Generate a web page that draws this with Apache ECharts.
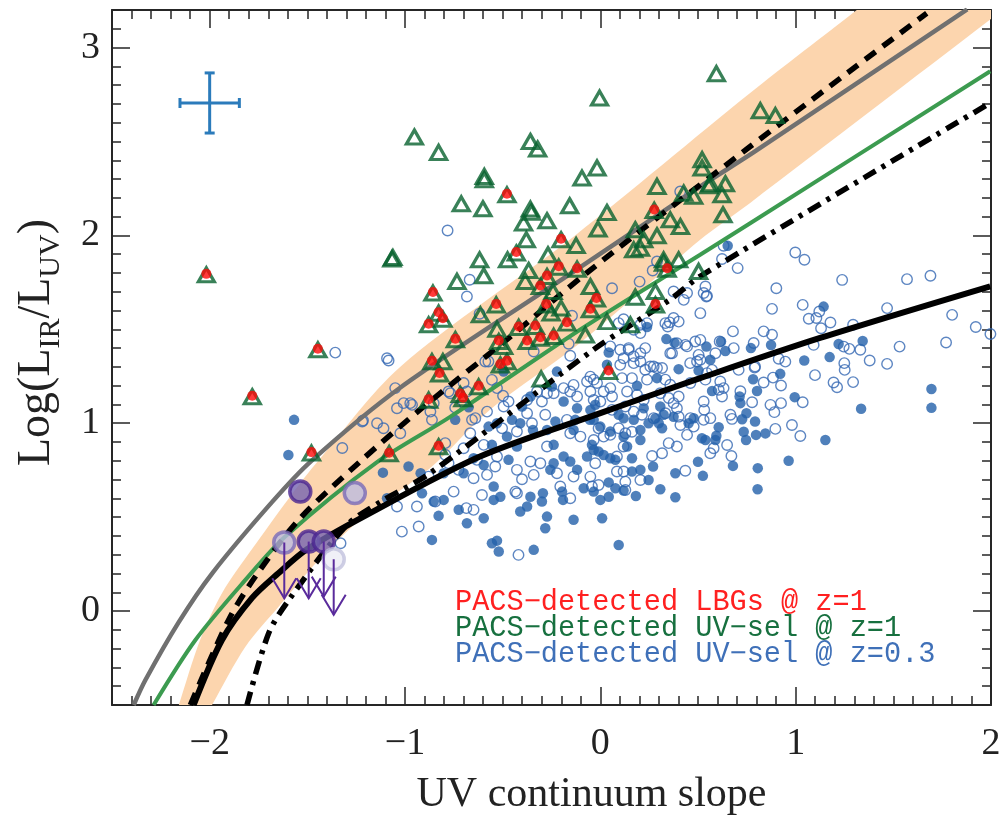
<!DOCTYPE html>
<html>
<head>
<meta charset="utf-8">
<script src="https://cdn.jsdelivr.net/npm/echarts@6/dist/echarts.min.js"></script>
<style>
  html, body { margin: 0; padding: 0; background: #fff; }
  #chart { width: 999px; height: 819px; }
</style>
</head>
<body>
<div id="chart"></div>
<script>
// ---- axis ranges / ticks ----
const xMin = -2.5, xMax = 2.0;
const yMin = -0.5, yMax = 3.2;
const xMajor = [-2, -1, 0, 1, 2];
const yMajor = [0, 1, 2, 3];

// ---- model curves ----
const grayCurve = [[-2.389,-0.5],[-2.329,-0.367],[-2.159,-0.06],[-1.988,0.2],[-1.681,0.58],[-1.479,0.80],
  [-1.025,1.189],[-0.129,1.812],[0.511,2.26],[0.782,2.441],[1.878,3.203]];
const greenCurve = [[-2.287,-0.5],[-2.073,-0.154],[-1.817,0.166],[-1.613,0.397],[-1.15,0.788],[-0.769,1.034],
  [-0.104,1.498],[0.511,1.897],[0.767,2.065],[1.996,2.874]];
const blackCurve = [[-2.082,-0.5],[-1.937,-0.154],[-1.783,0.07],[-1.65,0.2],[-1.5,0.33],[-1.2,0.51],
  [-0.616,0.823],[0,1.054],[0.511,1.24],[1.125,1.454],[1.996,1.729]];
const dashedCurve = [[-2.099,-0.5],[-1.903,-0.047],[-1.766,0.184],[-1.544,0.486],[-1.23,0.796],[-0.923,1.072],
  [-0.479,1.445],[-0.07,1.8],[0.767,2.473],[1.671,3.183]];
const dashDotCurve = [[-1.809,-0.5],[-1.698,-0.118],[-1.595,0.059],[-1.305,0.45],[-1.128,0.58],[-0.872,0.734],
  [-0.036,1.391],[0.357,1.658],[0.511,1.782],[1.996,2.705]];

// shaded band edges
const bandUpper = [[-2.158,-0.5],[-2.049,-0.154],[-1.937,0.095],[-1.783,0.33],[-1.595,0.6],[-1.46,0.78],
  [-1.025,1.3],[-0.129,2.0],[0.767,2.758],[1.313,3.2]];
const bandLower = [[-1.988,-0.5],[-1.817,-0.19],[-1.646,0.024],[-1.442,0.272],[-1.23,0.486],[-0.872,0.76],
  [-0.565,1.072],[-0.104,1.427],[0.511,1.977],[0.767,2.173],[1.996,3.149],[2.0,3.152]];

// ---- PACS-detected UV-selected @ z=1 (triangles) ----
const uvZ1 = [[-0.952,2.524],[-0.828,2.442],[-0.004,2.731],[0.594,2.861],[-0.358,2.5],[-0.321,2.46],[-0.594,2.314],
  [-0.594,2.296],[-0.017,2.359],[-0.094,2.305],[-0.712,2.168],[-0.601,2.142],[-0.478,2.216],[-0.358,2.14],
  [-0.353,2.123],[-0.157,2.158],[-0.273,2.078],[-0.393,2.066],[-0.379,1.977],[0.034,2.122],[-0.012,2.034],
  [0.29,2.261],[0.276,2.133],[0.521,2.403],[0.521,2.359],[0.427,2.225],[0.478,2.208],[0.555,2.264],[0.64,2.275],
  [0.623,2.216],[0.628,2.11],[0.41,2.047],[0.358,2.083],[0.29,1.998],[0.222,1.977],[0.179,2.03],[0.205,1.932],
  [0.171,1.923],[0.324,1.87],[0.401,1.87],[0.324,1.852],[0.342,1.82],[0.503,1.808],[0.282,1.701],[0.282,1.63],
  [0.179,1.671],[0.154,1.524],[0.034,1.541],[-0.051,1.728],[-0.02,1.661],[-0.051,1.604],[-0.077,1.47],
  [-0.124,1.946],[-0.119,1.82],[-0.201,1.977],[-0.213,1.831],[-0.273,1.781],[-0.242,1.701],[-0.201,1.613],
  [-0.277,1.63],[-0.252,1.587],[-0.307,1.728],[-0.367,1.813],[-0.384,1.755],[-0.43,1.906],[-0.475,1.87],
  [-0.268,1.897],[-0.618,1.87],[-0.597,1.785],[-0.734,1.755],[-0.857,1.693],[-0.828,1.586],[-0.806,1.554],
  [-0.879,1.524],[-0.614,1.577],[-0.533,1.63],[-0.171,1.533],[-0.333,1.515],[-0.418,1.51],[-0.529,1.501],
  [-0.742,1.445],[-0.239,1.462],[-0.307,1.453],[-0.375,1.435],[-0.495,1.409],[-0.52,1.435],[-0.862,1.328],
  [-0.806,1.328],[-0.823,1.262],[-0.512,1.31],[-0.478,1.328],[-0.623,1.194],[-0.717,1.153],[-0.703,1.131],
  [-0.879,1.123],[-0.303,1.236],[0.042,1.275],[-2.017,1.79],[-1.067,1.875],[-1.062,1.882],[-1.446,1.391],
  [-1.782,1.141],[-1.479,0.841],[-1.081,0.838],[-0.828,0.875],[0.819,2.664],[0.896,2.638],[0.563,2.275]];

// ---- PACS-detected LBGs @ z=1 (red dots) ----
const lbgZ1 = [[-0.478,2.216],[0.276,2.133],[0.342,1.82],[0.282,1.63],[-0.02,1.661],[-0.051,1.604],[-0.119,1.82],
  [-0.201,1.977],[-0.213,1.831],[-0.273,1.781],[-0.277,1.63],[-0.307,1.728],[-0.43,1.906],[-0.857,1.693],
  [-0.828,1.586],[-0.806,1.554],[-0.879,1.524],[-0.533,1.63],[-0.171,1.533],[-0.333,1.515],[-0.418,1.51],
  [-0.742,1.445],[-0.239,1.462],[-0.307,1.453],[-0.375,1.435],[-0.52,1.435],[-0.862,1.328],[-0.823,1.262],
  [-0.512,1.31],[-0.478,1.328],[-0.623,1.194],[-0.717,1.153],[-0.703,1.131],[-0.879,1.123],[0.042,1.275],
  [-2.017,1.79],[-1.446,1.391],[-1.782,1.141],[-1.479,0.841],[-1.081,0.838],[-0.828,0.875]];

// ---- PACS-detected UV-selected @ z=0.3 (open and filled blue circles) ----
const uvZ03Open = [[0.998,1.909],[1.045,1.87],[0.703,1.826],[1.238,1.763],[1.57,1.767],[1.69,1.785],[0.901,1.719],
  [0.538,1.728],[0.546,1.678],[0.879,1.609],[1.036,1.63],[1.067,1.556],[1.106,1.56],[1.121,1.595],[1.178,1.536],
  [1.13,1.506],[1.294,1.524],[1.468,1.613],[1.801,1.577],[1.922,1.512],[1.997,1.475],[0.679,1.489],[0.836,1.489],
  [0.879,1.471],[0.785,1.427],[0.683,1.4],[1.092,1.417],[1.246,1.408],[1.275,1.396],[1.331,1.391],[1.379,1.334],
  [1.532,1.408],[1.77,1.43],[1.468,1.316],[1.249,1.32],[1.251,1.284],[1.099,1.256],[1.194,1.217],[1.212,1.192],
  [1.294,1.219],[0.913,1.343],[0.947,1.328],[0.79,1.296],[0.884,1.243],[0.925,1.201],[0.836,1.217],[0.623,1.142],
  [0.777,1.112],[0.871,1.098],[0.925,1.107],[1.036,1.112],[0.891,1.059],[0.981,0.991],[1.024,0.932],[0.896,0.97],
  [0.674,1.023],[0.649,0.884],[0.671,0.826],[0.563,0.84],[0.532,1.071],[0.512,1.586],[0.512,1.444],[0.572,1.284],
  [0.614,1.222],[0.606,1.178],[0.708,1.284],[0.717,1.17],[0.355,1.537],[0.401,1.541],[0.345,1.515],[0.205,1.48],
  [0.119,1.554],[0.094,1.533],[0.486,1.435],[0.611,1.435],[0.145,1.4],[0.23,1.4],[0.367,1.373],[0.435,1.417],
  [0.503,1.364],[0.119,1.346],[0.171,1.32],[0.205,1.329],[0.256,1.302],[0.29,1.294],[0.316,1.294],[0.46,1.32],
  [0.495,1.329],[0.792,1.302],[0.102,1.311],[0.111,1.24],[0.162,1.24],[0.23,1.285],[0.239,1.232],[0.333,1.232],
  [0.358,1.205],[0.461,1.214],[0.538,1.232],[0.631,1.187],[-0.034,1.232],[-0.017,1.214],[0.051,1.187],[0.017,1.169],
  [0.06,1.142],[0.137,1.169],[0.188,1.151],[0.222,1.124],[0.307,1.16],[0.35,1.134],[0.401,1.142],[0.375,1.107],
  [0.392,1.08],[0.529,1.116],[0.529,1.018],[0.563,1.027],[0.666,1.045],[0.0,1.116],[0.06,1.071],[0.128,1.089],
  [0.171,1.062],[0.213,1.045],[0.273,1.027],[0.333,1.053],[0.401,1.035],[0.41,0.991],[0.461,1.027],[0.478,0.982],
  [-0.009,0.973],[0.094,0.973],[0.128,0.947],[0.162,0.955],[0.051,0.938],[0.017,0.929],[-0.034,0.911],[0.444,0.938],
  [0.35,0.894],[0.392,0.876],[0.316,0.84],[0.265,0.826],[0.58,0.867],[0.119,0.876],[0.085,0.823],[0.119,0.743],
  [0.085,0.743],[0.205,0.698],[0.128,0.689],[0.435,0.747],[-0.026,0.787],[-0.009,0.671],[-0.043,0.663],[0.128,0.645],
  [-1.084,1.334],[-0.162,1.423],[-0.154,1.359],[-0.573,1.329],[-0.341,1.382],[-0.555,1.231],[-0.529,1.187],
  [-0.498,1.146],[-0.47,1.116],[-1.05,1.187],[-1.007,1.107],[-0.964,1.098],[-1.041,1.08],[-0.777,1.169],
  [-0.683,1.169],[-0.87,1.062],[-1.024,0.947],[-1.143,1.0],[-1.11,0.973],[-1.215,1.015],[-0.862,1.018],
  [-0.794,0.894],[-0.657,1.018],[-0.64,1.027],[-0.58,1.062],[-0.495,1.089],[-0.503,0.973],[-0.427,0.956],
  [-0.375,1.053],[-0.35,1.0],[-0.299,1.116],[-0.324,1.169],[-0.282,1.045],[-0.239,1.16],[-0.154,1.169],
  [-0.119,1.142],[-0.137,1.204],[-0.068,1.222],[-0.051,1.169],[-0.034,1.124],[-0.051,1.248],[-0.154,0.947],
  [-0.102,0.929],[-0.171,1.018],[-0.273,0.876],[-0.307,0.787],[-0.358,0.796],[-0.341,0.725],[-0.427,0.752],
  [-0.401,0.702],[-0.529,0.823],[-0.538,0.77],[-0.58,0.725],[-0.632,0.805],[-0.649,0.707],[-0.666,0.947],
  [-0.7,0.867],[-0.597,0.885],[-0.726,0.752],[-0.794,0.832],[-0.777,0.787],[-0.879,0.716],[-0.751,0.636],
  [-0.845,0.583],[-0.606,0.618],[-0.686,0.548],[-0.649,0.539],[-0.93,0.45],[-1.016,0.423],[-1.041,0.557],
  [-0.939,0.557],[-0.427,0.627],[-0.419,0.299],[-0.154,0.601],[-0.205,0.663],[-0.137,0.716],[-0.222,0.734],
  [-0.051,0.716],[-0.743,1.083],[-0.435,0.636],[-1.321,0.868],[-1.219,1.009],[-1.33,0.361],[-1.357,1.376],
  [-1.092,1.346],[-0.782,2.026],[-0.669,1.764],[-0.683,1.675],[-0.618,1.583],[-0.145,1.572],[0.06,1.719],
  [0.201,1.754],[0.268,1.813],[0.29,1.861],[0.409,2.234],[0.444,1.693],[0.529,1.693],[0.543,1.675],[0.623,1.874],
  [0.375,1.701],[0.427,1.657],[0.333,1.533],[0.375,1.56],[0.239,1.533],[0.205,1.524],[0.171,1.498],[0.145,1.391],
  [0.171,1.356],[0.205,1.373],[0.051,1.409],[0.102,1.391],[0.273,1.302],[0.358,1.373],[0.392,1.426],[0.444,1.409],
  [0.512,1.338],[0.589,1.373],[0.546,1.267],[-0.188,1.187],[-0.273,1.16],[-0.375,1.124],[-0.7,1.214],[-0.768,1.16],
  [-0.853,1.107],[-0.973,1.107],[-0.589,1.329],[0.631,1.945]];

const uvZ03Filled = [[1.143,1.621],[0.652,1.945],[0.618,1.435],[0.543,1.408],[0.64,1.385],[0.771,1.4],[0.874,1.417],
  [0.563,1.338],[1.044,1.334],[1.174,1.352],[1.22,1.422],[1.343,1.438],[0.921,1.263],[0.782,1.234],[0.802,1.172],
  [0.572,1.172],[0.713,1.142],[0.717,1.107],[0.995,1.139],[0.748,1.053],[0.726,1.021],[0.606,0.979],[0.734,0.955],
  [0.746,0.911],[0.797,0.938],[0.845,0.946],[0.589,0.911],[0.538,0.911],[1.152,0.911],[0.964,0.8],[0.806,0.761],
  [0.679,0.773],[0.525,0.72],[1.335,1.077],[1.695,1.182],[1.695,1.082],[0.805,0.649],[0.239,1.512],[0.338,1.448],
  [0.38,1.429],[0.043,1.377],[0.034,1.311],[0.401,1.288],[0.503,1.281],[0.29,1.24],[0.188,1.199],[0.222,1.08],
  [0.307,1.089],[0.324,1.045],[0.282,1.027],[0.299,1.0],[0.247,1.0],[0.316,0.973],[0.375,1.035],[0.452,1.0],
  [0.478,1.027],[0.171,1.018],[0.119,1.027],[0.094,1.045],[-0.026,1.098],[-0.053,1.018],[0,0.982],[0.051,0.956],
  [0.119,0.929],[0.205,0.964],[0.205,0.911],[0.137,0.876],[-0.043,0.885],[-0.009,0.849],[0.017,0.831],[0.051,0.814],
  [0.077,0.805],[0.162,0.814],[0.52,0.92],[0.594,0.933],[0.792,1.009],[0.5,0.795],[0.384,0.734],[0.27,0.77],
  [0.205,0.752],[0.162,0.743],[0.247,0.698],[0.307,0.649],[0.384,0.606],[0.182,0.613],[0.043,0.685],[0.077,0.654],
  [0.119,0.642],[-0.034,0.636],[0,0.592],[0.043,0.609],[0.009,0.494],[-1.113,0.737],[-0.982,0.77],[-0.913,0.627],
  [-0.828,0.507],[-0.862,0.379],[-0.743,1.018],[-0.674,1.085],[-0.572,0.982],[-0.555,0.885],[-0.529,1.0],
  [-0.478,0.929],[-0.452,1.018],[-0.41,1.0],[-0.401,1.089],[-0.358,1.142],[-0.345,0.964],[-0.427,0.876],
  [-0.47,0.805],[-0.597,0.778],[-0.649,0.814],[-0.7,0.734],[-0.546,0.663],[-0.512,0.609],[-0.546,0.592],
  [-0.358,0.609],[-0.41,0.53],[-0.294,0.627],[-0.299,0.583],[-0.196,0.636],[-0.137,0.486],[-0.282,0.441],
  [-0.341,0.326],[-0.529,0.375],[-0.555,0.361],[-0.52,0.317],[-0.597,0.494],[-0.683,0.468],[-0.239,0.787],
  [-0.256,0.752],[-0.188,0.823],[-0.154,0.796],[-0.119,0.752],[-0.068,0.823],[-0.034,0.858],[-0.137,0.964],
  [-0.273,0.964],[-0.239,0.885],[-0.222,1.275],[-0.248,1.195],[-0.188,1.116],[-0.119,1.08],[-0.051,1.071],
  [-0.034,1.018],[-0.128,1.018],[-0.23,1.009],[-0.495,1.275],[-1.568,1.018],[-1.597,0.831],[-0.92,0.734],
  [-1.092,0.601],[-0.725,0.539],[-0.802,0.592],[-0.853,0.583],[-0.273,0.503],[0.094,0.352],[-0.191,0.592],
  [-0.085,0.654],[-0.375,0.557],[-0.802,0.734]];

// ---- individual sources shown as big purple circles ----
const darkCircles = [[-1.536,0.636],[-1.493,0.37],[-1.416,0.37]];
const midCircles = [[-1.257,0.628],[-1.618,0.365]];
const lightCircles = [[-1.365,0.276]];
// upper limits: [x, y from, y arrow tip]
const upperLimits = [[-1.618,0.365,0.068],[-1.493,0.37,0.068],[-1.416,0.37,0.077],[-1.365,0.276,-0.02]];

// typical error bar: [x, y, dx, dy]
const errorBar = [[-2.0,2.705,0.152,0.16]];

const legendLines = [
  ['PACS\u2212detected LBGs @ z=1', '#ff2020'],
  ['PACS\u2212detected UV\u2212sel @ z=1', '#17703f'],
  ['PACS\u2212detected UV\u2212sel @ z=0.3', '#3f70b8']
];

const frameColor = '#262626';
const serif = '"Liberation Serif", "DejaVu Serif", serif';

function frameAxis(position, min, max, major, isMajor, extra) {
  const ax = {
    type: 'value', position: position, min: min, max: max,
    axisLine: { show: !isMajor, onZero: false, lineStyle: { color: frameColor, width: 2 } },
    axisTick: { show: true, inside: true, length: isMajor ? 18 : 9,
      lineStyle: { color: frameColor, width: 1.5 } },
    axisLabel: { show: false },
    splitLine: { show: false }
  };
  if (isMajor) ax.axisTick.customValues = major;
  else ax.interval = 0.1;
  return Object.assign(ax, extra || {});
}

// smoothed line through the read points
function curve(name, data, color, width, type) {
  return { type: 'line', name: name, z: 4, data: data, showSymbol: false, smooth: 0.3,
    lineStyle: { color: color, width: width, type: type || 'solid' } };
}

const chart = echarts.init(document.getElementById('chart'), null, { renderer: 'canvas' });

const option = {
  animation: false,
  backgroundColor: '#fff',
  grid: { left: 112, right: 8, top: 10, bottom: 114, containLabel: false, outerBoundsMode: 'none' },
  xAxis: [
    frameAxis('bottom', xMin, xMax, xMajor, false, {
      axisLabel: { show: true, customValues: xMajor, margin: 20, fontFamily: serif, fontSize: 38, color: '#222',
        formatter: v => (v < 0 ? '\u2212' : '') + Math.abs(v) },
      name: 'UV continuum slope', nameLocation: 'middle', nameGap: 69,
      nameTextStyle: { fontFamily: serif, fontSize: 42, color: '#222', padding: [0, 0, 0, 80] }
    }),
    frameAxis('bottom', xMin, xMax, xMajor, true),
    frameAxis('top', xMin, xMax, xMajor, false),
    frameAxis('top', xMin, xMax, xMajor, true)
  ],
  yAxis: [
    frameAxis('left', yMin, yMax, yMajor, false, {
      axisLabel: { show: true, customValues: yMajor, margin: 12, fontFamily: serif, fontSize: 38, color: '#222' },
      name: '{a|Log(L}{s|IR}{a|/L}{s|UV}{a|)}', nameLocation: 'middle', nameGap: 46, nameRotate: 90,
      nameTextStyle: { padding: [0, 0, 0, 30], rich: {
        a: { fontFamily: serif, fontSize: 46, color: '#222' },
        s: { fontFamily: serif, fontSize: 30, color: '#222', padding: [28, 0, 0, 0] }
      } }
    }),
    frameAxis('left', yMin, yMax, yMajor, true),
    frameAxis('right', yMin, yMax, yMajor, false),
    frameAxis('right', yMin, yMax, yMajor, true)
  ],
  graphic: legendLines.map((l, i) => ({
    type: 'text', x: 455, y: 602 + i * 26.3, z: 100,
    style: { text: l[0], fill: l[1], font: '28.6px "Liberation Mono", "DejaVu Sans Mono", monospace',
      verticalAlign: 'middle' }
  })),
  series: [
    {
      type: 'custom', name: 'band', z: 1, silent: true,
      data: [bandUpper[0]],
      renderItem: function (params, api) {
        const up = bandUpper.map(p => api.coord(p));
        const lo = bandLower.slice().reverse().map(p => api.coord(p));
        const tr = api.coord([xMax, yMax]);
        // repeat the corner points so that the smoothing keeps them sharp
        const pts = [up[0]].concat(up, [up[up.length - 1], tr, tr, lo[0]], lo, [lo[lo.length - 1]]);
        return { type: 'polygon', shape: { points: pts, smooth: 0.3 }, style: { fill: '#fcd5ae' } };
      }
    },
    { type: 'scatter', name: 'z03open', z: 2, data: uvZ03Open, symbol: 'circle', symbolSize: 10.5,
      itemStyle: { color: 'rgba(255,255,255,0)', borderColor: '#3468b3', borderWidth: 1.4 } },
    { type: 'scatter', name: 'z03filled', z: 3, data: uvZ03Filled, symbol: 'circle', symbolSize: 10.5,
      itemStyle: { color: '#2360aa' } },
    curve('gray', grayCurve, '#707070', 4.5),
    curve('green', greenCurve, '#3c9b50', 4),
    curve('black', blackCurve, '#000', 6),
    curve('dashed', dashedCurve, '#000', 5.5, [13, 9]),
    curve('dashdot', dashDotCurve, '#000', 5.5, [14, 7, 4, 7]),
    { type: 'scatter', name: 'uvz1', z: 5, data: uvZ1, symbol: 'triangle', symbolSize: [16, 14],
      itemStyle: { color: 'rgba(255,255,255,0)', borderColor: '#07612e', borderWidth: 3.2 } },
    { type: 'scatter', name: 'lbg', z: 6, data: lbgZ1, symbol: 'circle', symbolSize: 10, symbolOffset: [0, -1],
      itemStyle: { color: '#ff0a0a' } },
    { type: 'scatter', name: 'dark', z: 7, data: darkCircles, symbolSize: 21,
      itemStyle: { color: '#7464b0', borderColor: '#4b2590', borderWidth: 3.5 } },
    { type: 'scatter', name: 'mid', z: 7, data: midCircles, symbolSize: 21,
      itemStyle: { color: '#bcbce0', borderColor: '#7a6cb8', borderWidth: 3.5 } },
    { type: 'scatter', name: 'light', z: 7, data: lightCircles, symbolSize: 21,
      itemStyle: { color: '#ececf5', borderColor: '#c2c2dd', borderWidth: 3.5 } },
    {
      type: 'custom', name: 'limits', z: 8, silent: true, data: upperLimits,
      encode: { x: 0, y: 1 },
      renderItem: function (params, api) {
        const top = api.coord([api.value(0), api.value(1)]);
        const tip = api.coord([api.value(0), api.value(2)]);
        const st = { stroke: '#5a2b9c', lineWidth: 2, fill: null };
        return { type: 'group', children: [
          { type: 'line', shape: { x1: top[0], y1: top[1], x2: tip[0], y2: tip[1] }, style: st },
          { type: 'polyline', shape: { points: [[tip[0] - 12, tip[1] - 20], tip, [tip[0] + 12, tip[1] - 20]] }, style: st }
        ] };
      }
    },
    {
      type: 'custom', name: 'errbar', z: 8, silent: true, data: errorBar,
      encode: { x: 0, y: 1 },
      renderItem: function (params, api) {
        const x = api.value(0), y = api.value(1), dx = api.value(2), dy = api.value(3);
        const l = api.coord([x - dx, y]), r = api.coord([x + dx, y]);
        const t = api.coord([x, y + dy]), b = api.coord([x, y - dy]);
        const st = { stroke: '#2b7bbb', lineWidth: 3 };
        const seg = (x1, y1, x2, y2) => ({ type: 'line', shape: { x1, y1, x2, y2 }, style: st });
        return { type: 'group', children: [
          seg(l[0], l[1], r[0], r[1]), seg(t[0], t[1], b[0], b[1]),
          seg(l[0], l[1] - 5, l[0], l[1] + 5), seg(r[0], r[1] - 5, r[0], r[1] + 5),
          seg(t[0] - 5, t[1], t[0] + 5, t[1]), seg(b[0] - 5, b[1], b[0] + 5, b[1])
        ] };
      }
    }
  ]
};

chart.setOption(option);
window.onresize = () => chart.resize();
</script>
</body>
</html>
